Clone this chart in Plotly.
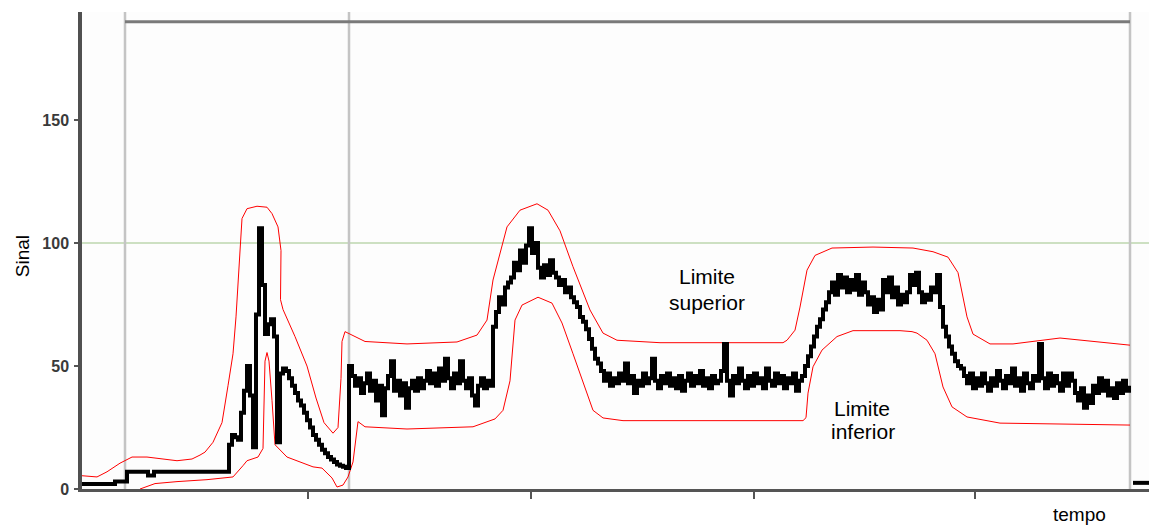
import plotly.graph_objects as go

# ---- data (x in time samples, y in signal units) ----
seg_starts = [0, 45, 147, 267, 411, 522, 723, 858]
seg_a = [2, 2, 2, 2, 2, 2, 2, 2, 2, 2, 2, 3, 3, 3, 3]
seg_b = [7, 7, 7, 7, 7, 7, 7, 5.5, 5.5, 7, 7, 7, 7, 7, 7, 7, 7, 7, 7, 7, 7, 7,
         7, 7, 7, 7, 7, 7, 7, 7, 7, 7, 7, 7]
seg_c = [18, 22, 21, 20, 31, 40, 50, 38, 17, 71, 106, 83, 63, 67, 69, 62, 19, 47,
         49, 48, 45, 42, 39, 36, 34, 31, 28, 25, 22, 20, 18, 16, 14.5, 13, 12, 11,
         10, 9.5, 9, 8.5]
seg_d = [50, 46, 42, 45, 39, 43, 47, 40, 44, 36, 42, 30, 41, 46, 52, 40, 44, 38,
         43, 33, 41, 44, 40, 45, 41, 44, 48, 43, 47, 42, 49, 44, 53, 45, 41, 47,
         43, 52, 44, 41, 45, 38, 34, 42, 45, 41, 44, 42]
seg_e = [66, 72, 78, 75, 82, 84, 86, 92, 89, 97, 92, 99, 106, 96, 100, 90, 86,
         91, 87, 93, 88, 86, 83, 85, 80, 82, 78, 76, 74, 70, 68, 65, 61, 57, 53,
         51, 48]
seg_f = [44, 47, 42, 45, 43, 47, 44, 51, 43, 46, 39, 44, 42, 47, 43, 45, 53, 44,
         41, 46, 43, 47, 42, 45, 41, 46, 40, 44, 47, 42, 46, 43, 48, 42, 45, 41,
         46, 43, 44, 48, 59, 44, 38, 46, 43, 49, 44, 41, 46, 42, 47, 43, 45, 41,
         49, 44, 42, 47, 43, 46, 41, 45, 43, 47, 40, 44, 46]
seg_g = [50, 54, 58, 62, 66, 69, 73, 76, 80, 84, 79, 87, 82, 86, 80, 85, 81, 87,
         79, 84, 80, 75, 78, 72, 77, 73, 85, 80, 86, 78, 82, 75, 79, 76, 80, 87,
         83, 88, 80, 76, 79, 77, 82, 80, 87]
seg_h = [74, 66, 62, 58, 55, 52, 50, 49, 46, 43, 47, 41, 45, 42, 47, 43, 40, 45,
         42, 48, 44, 41, 46, 43, 49, 42, 45, 40, 47, 43, 41, 46, 44, 59, 45, 41,
         47, 42, 46, 43, 40, 47, 42, 47, 44, 39, 36, 41, 33, 38, 35, 42, 39, 45,
         40, 44, 38, 41, 37, 43, 39, 44, 40, 42]
sample_step = 3
tail_x = [1051, 1075]
tail_y = [2.5, 2.5]

upper_x = [0, 15, 25, 38, 50, 65, 95, 110, 118, 123, 131, 140, 146, 151, 154, 156,
           158, 160, 165, 175, 185, 190, 196, 199, 198.5, 201, 213, 225, 234, 242,
           251, 256, 259, 260, 263, 278, 283, 325, 375, 395, 405, 411, 425, 438,
           455, 466, 478, 491, 508, 521, 535, 578, 701, 705, 713, 718, 725, 733,
           750, 791, 831, 851, 866, 876, 885, 891, 908, 931, 978, 1048]
upper_y = [5.4, 4.9, 7, 10.5, 13, 13, 11.5, 12.2, 13.8, 15, 19, 27, 42, 55, 70, 84,
           100, 110, 114, 115, 114.6, 112, 106.6, 97, 77, 73, 62, 50, 37, 27,
           22.7, 25, 45, 60, 64, 61, 60, 59, 59.8, 62.6, 68.7, 85, 106.6, 113.4,
           116, 113.4, 105, 90.4, 72.8, 63.4, 60.5, 59.5, 59.5, 60.5, 64.6, 74, 89,
           95, 98, 98.4, 98, 96.5, 94.3, 88, 70, 63, 59, 59, 61.4, 58.5]
lower_x = [58, 73, 95, 125, 151, 156, 161, 165, 176, 181, 183, 185, 187, 190, 193,
           205, 218, 231, 240, 250, 255, 261, 266, 271, 276, 283, 325, 391, 413,
           421, 428, 433, 440, 456, 470, 480, 491, 505, 511, 521, 541, 721, 724,
           726, 731, 740, 755, 771, 818, 830, 835, 845, 853, 861, 870, 885, 918,
           1048]
lower_y = [0, 2.2, 3, 3.8, 4.9, 7, 9.5, 11.5, 13, 16.5, 52, 55.5, 52, 36, 18, 13,
           11, 9, 8.5, 4.5, 0.8, 1.6, 4.9, 11, 27.4, 25.3, 24.4, 25.3, 28.5, 32,
           44, 68.7, 74.8, 78, 75.6, 67.5, 55, 39, 32, 28.9, 27.8, 27.8, 29, 39,
           49.7, 56.5, 62, 64.4, 64.4, 64, 63.4, 60.5, 55, 41.5, 33.4, 29.3, 26.8,
           26]

reference_level = 100
frame_x = [43, 267, 1048]
frame_top = 190
x_ticks = [226, 449, 672, 893]
y_ticks = [0, 50, 100, 150]

# ---- build signal ----
segments = [seg_a, seg_b, seg_c, seg_d, seg_e, seg_f, seg_g, seg_h]
signal_x, signal_y = [], []
for start, vals in zip(seg_starts, segments):
    for j, v in enumerate(vals):
        signal_x.append(start + sample_step * j)
        signal_y.append(v)

fig = go.Figure()

fig.add_trace(go.Scatter(x=upper_x, y=upper_y, mode="lines",
                         line=dict(color="#ff0000", width=1), hoverinfo="skip"))
fig.add_trace(go.Scatter(x=lower_x, y=lower_y, mode="lines",
                         line=dict(color="#ff0000", width=1), hoverinfo="skip"))
fig.add_trace(go.Scatter(x=signal_x, y=signal_y, mode="lines",
                         line=dict(color="#000000", width=4, shape="hv")))
fig.add_trace(go.Scatter(x=tail_x, y=tail_y, mode="lines",
                         line=dict(color="#000000", width=4)))

shapes = []
# reference line at 100
shapes.append(dict(type="line", xref="paper", yref="y", x0=0, x1=1,
                   y0=reference_level, y1=reference_level,
                   line=dict(color="#bcd6ae", width=1.5), layer="below"))
for fx in frame_x:
    shapes.append(dict(type="line", xref="x", yref="paper", x0=fx, x1=fx,
                       y0=0, y1=1, line=dict(color="#c4c4c4", width=2.5),
                       layer="below"))
shapes.append(dict(type="line", xref="x", yref="y", x0=frame_x[0], x1=frame_x[-1],
                   y0=frame_top, y1=frame_top,
                   line=dict(color="#7a7a7a", width=3), layer="below"))

annotations = [
    dict(text="Sinal", xref="paper", yref="paper", x=-0.0558, y=0.488,
         textangle=-90, showarrow=False, xanchor="center", yanchor="middle",
         font=dict(size=19, color="#000000")),
    dict(text="tempo", xref="x", yref="paper", x=997, y=-0.054,
         showarrow=False, xanchor="center", yanchor="middle",
         font=dict(size=19, color="#000000")),
    dict(text="Limite", xref="x", yref="y", x=625, y=86.5, showarrow=False,
         xanchor="center", yanchor="middle", font=dict(size=21, color="#000000")),
    dict(text="superior", xref="x", yref="y", x=625, y=76.0, showarrow=False,
         xanchor="center", yanchor="middle", font=dict(size=21, color="#000000")),
    dict(text="Limite", xref="x", yref="y", x=780, y=32.6, showarrow=False,
         xanchor="center", yanchor="middle", font=dict(size=21, color="#000000")),
    dict(text="inferior", xref="x", yref="y", x=781, y=23.2, showarrow=False,
         xanchor="center", yanchor="middle", font=dict(size=21, color="#000000")),
]

# the page body adds an 8px offset, so the figure is sized to fill the window
fig.update_layout(
    width=1149, height=520,
    margin=dict(l=74, r=0, t=4, b=39, autoexpand=False),
    paper_bgcolor="#ffffff", plot_bgcolor="#fdfdfd",
    showlegend=False,
    font=dict(family="Arial, Liberation Sans, sans-serif"),
    shapes=shapes, annotations=annotations,
    xaxis=dict(range=[0, 1075], showgrid=False, zeroline=False, showline=True,
               linecolor="#555555", linewidth=3, ticks="outside", ticklen=7,
               tickwidth=2, tickcolor="#555555", tickvals=x_ticks,
               showticklabels=False, fixedrange=True),
    yaxis=dict(range=[0, 194], showgrid=False, zeroline=False, showline=True,
               linecolor="#505050", linewidth=3.5, ticks="outside", ticklen=4,
               tickwidth=2, tickcolor="#555555", tickvals=y_ticks,
               tickfont=dict(size=16, color="#3a3a3a", weight="bold"),
               ticklabelstandoff=2, fixedrange=True),
)

fig.write_html("out.html")
